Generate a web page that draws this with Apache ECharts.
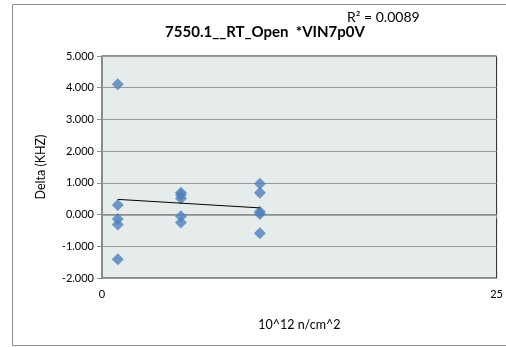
<!DOCTYPE html>
<html><head><meta charset="utf-8">
<script src="https://cdn.jsdelivr.net/npm/echarts@6/dist/echarts.min.js"></script>
<style>html,body{margin:0;padding:0;background:#fff}#c{width:506px;height:347px}</style>
</head><body><div id="c"></div>
<script>
var xValues = [1,1,1,1,1, 5,5,5,5,5, 10,10,10,10,10];
var yValues = [4.11,0.30,-0.14,-0.31,-1.41, 0.69,0.62,0.51,-0.05,-0.25, 0.97,0.69,0.09,0.02,-0.59];
var titleText = '7550.1__RT_Open  *VIN7p0V';
var xName = '10^12 n/cm^2';
var yName = 'Delta (KHZ)';

var n = xValues.length, mx = 0, my = 0;
for (var i=0;i<n;i++){mx+=xValues[i];my+=yValues[i];}
mx/=n; my/=n;
var sxy=0,sxx=0,syy=0;
for (var i=0;i<n;i++){var dx=xValues[i]-mx, dy=yValues[i]-my; sxy+=dx*dy; sxx+=dx*dx; syy+=dy*dy;}
var slope=sxy/sxx, icpt=my-slope*mx, r2=sxy*sxy/(sxx*syy);
var xmin=Math.min.apply(null,xValues), xmax=Math.max.apply(null,xValues);
var trend=[[xmin,icpt+slope*xmin],[xmax,icpt+slope*xmax]];
var pts=xValues.map(function(x,i){return [x,yValues[i]];});

var font='Lato, "Open Sans", sans-serif';
var chart=echarts.init(document.getElementById('c'));
chart.setOption({
  animation:false,
  graphic:[
    {type:'rect',shape:{x:12.5,y:4.5,width:520,height:341},style:{fill:'none',stroke:'#8c8c8c',lineWidth:1},z:-10},
    {type:'text',x:265,y:32,style:{text:titleText,font:'bold 15px '+font,fill:'#000',textAlign:'center',textVerticalAlign:'middle'},z:10},
    {type:'text',x:347,y:17,style:{text:'R² = '+r2.toFixed(4),font:'14px '+font,fill:'#000',textAlign:'left',textVerticalAlign:'middle'},z:11}
  ],
  grid:{left:102,top:56,width:395,height:222,show:true,backgroundColor:'#e6ecec',borderColor:'#222',borderWidth:1},
  xAxis:{type:'value',min:0,max:25,interval:25,name:xName,nameLocation:'middle',nameGap:40,
    nameTextStyle:{fontFamily:font,fontSize:12.5,color:'#000'},
    axisLine:{show:true,lineStyle:{color:'#8c8c8c',width:1.5}},axisTick:{show:true,length:4,lineStyle:{color:'#8c8c8c'}},
    axisLabel:{fontFamily:font,fontSize:11,color:'#000',margin:11},splitLine:{show:false}},
  yAxis:{type:'value',min:-2,max:5,interval:1,name:yName,nameLocation:'middle',nameGap:55,
    nameTextStyle:{fontFamily:font,fontSize:12.5,color:'#000'},
    axisLine:{show:true,lineStyle:{color:'#8c8c8c',width:1.5}},axisTick:{show:true,length:5,lineStyle:{color:'#8c8c8c'}},
    axisLabel:{fontFamily:font,fontSize:11,color:'#000',margin:8,formatter:function(v){return v.toFixed(3);}},
    splitLine:{show:true,lineStyle:{color:'#9a9a9a',width:1}}},
  series:[
    {type:'scatter',data:pts,symbol:'diamond',symbolSize:12,itemStyle:{color:'#4f81bd'},z:3},
    {type:'line',data:trend,symbol:'none',lineStyle:{color:'#000',width:1},z:4}
  ]
});
</script></body></html>
